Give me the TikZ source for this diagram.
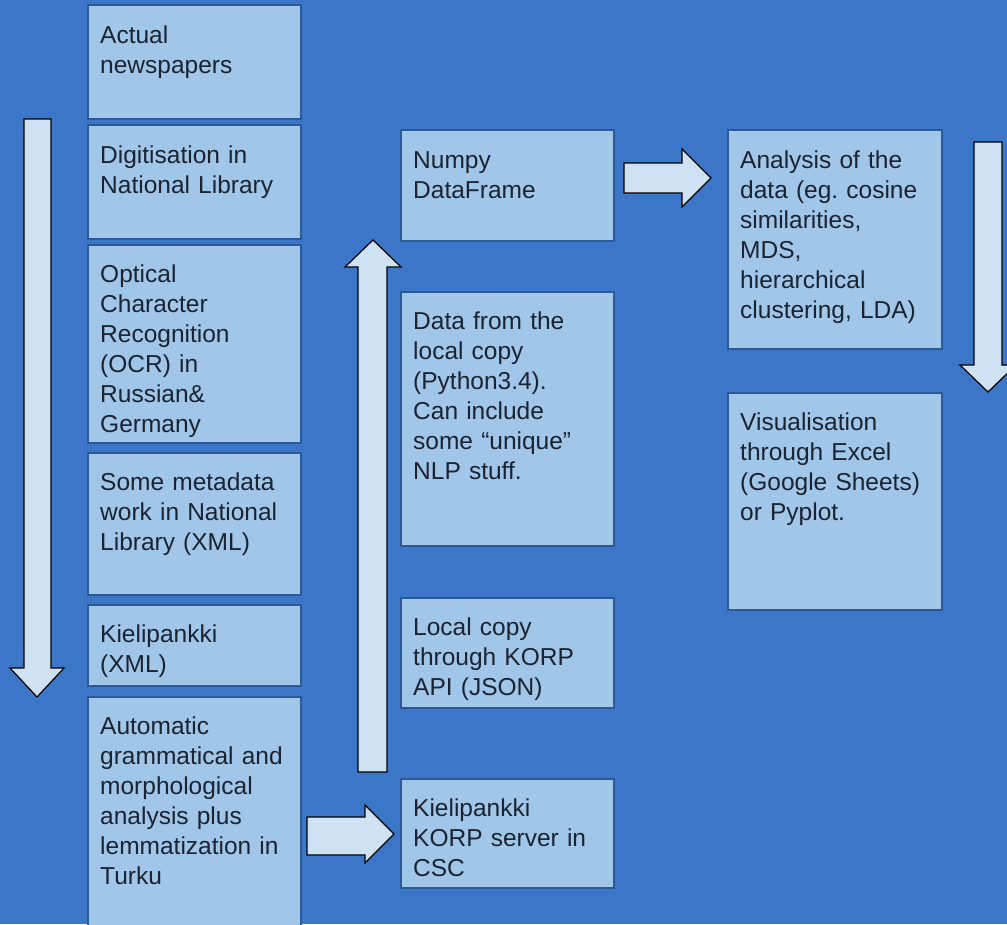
\documentclass[tikz,border=0pt]{standalone}
\usepackage{fontspec}
\setmainfont{Liberation Sans}
\frenchspacing
\definecolor{bg}{HTML}{3C76C8}
\definecolor{boxfill}{HTML}{A0C6EA}
\definecolor{boxline}{HTML}{2C5A98}
\definecolor{arrowfill}{HTML}{CFE2F3}
\definecolor{ink}{HTML}{1C2330}
\begin{document}
\begin{tikzpicture}[x=1pt,y=-1pt,
  card/.style={draw=boxline,line width=1.4pt,fill=boxfill,rectangle,anchor=north west,
    inner sep=0pt,outer sep=0pt,minimum width=213pt},
  lbl/.style={anchor=base west,inner sep=0pt,text=ink,text width=205pt,align=left,
    font=\fontsize{24.5}{30}\selectfont},
  blockarrow/.style={draw=black,line width=1.2pt,fill=arrowfill,line join=miter}]
% canvas
\clip (0,0) rectangle (1007,924);
\fill[bg] (0,0) rectangle (1007,924);

% left column: from newspapers to parsed corpus
\node[card,minimum height=114pt] (b1) at (88,5) {};
\node[card,minimum height=114pt] (b2) at (88,125) {};
\node[card,minimum height=198pt] (b3) at (88,245) {};
\node[card,minimum height=142pt] (b4) at (88,453) {};
\node[card,minimum height=81pt]  (b5) at (88,605) {};
\node[card,minimum height=250pt] (b6) at (88,697) {};

% middle column
\node[card,minimum height=111pt] (m1) at (401,130) {};
\node[card,minimum height=254pt] (m2) at (401,292) {};
\node[card,minimum height=110pt] (m3) at (401,598) {};
\node[card,minimum height=109pt] (m4) at (401,779) {};

% right column
\node[card,minimum width=214pt,minimum height=219pt] (r1) at (728,130) {};
\node[card,minimum width=214pt,minimum height=217pt] (r2) at (728,393) {};

% texts
\node[lbl] (t1) at ([xshift=12pt,yshift=-38pt]b1.north west) {Actual\\newspapers};
\node[lbl] (t2) at ([xshift=12pt,yshift=-38pt]b2.north west) {Digitisation in\\National Library};
\node[lbl] (t3) at ([xshift=12pt,yshift=-37pt]b3.north west) {Optical\\Character\\Recognition\\(OCR) in\\Russian\&\\Germany};
\node[lbl] (t4) at ([xshift=12pt,yshift=-37pt]b4.north west) {Some metadata\\work in National\\Library (XML)};
\node[lbl] (t5) at ([xshift=12pt,yshift=-37pt]b5.north west) {Kielipankki\\(XML)};
\node[lbl] (t6) at ([xshift=12pt,yshift=-37pt]b6.north west) {Automatic\\grammatical and\\morphological\\analysis plus\\lemmatization in\\Turku};
\node[lbl] (t7) at ([xshift=12pt,yshift=-38pt]m1.north west) {Numpy\\DataFrame};
\node[lbl] (t8) at ([xshift=12pt,yshift=-37pt]m2.north west) {Data from the\\local copy\\(Python3.4).\\Can include\\some “unique”\\NLP stuff.};
\node[lbl] (t9) at ([xshift=12pt,yshift=-37pt]m3.north west) {Local copy\\through KORP\\API (JSON)};
\node[lbl] (t10) at ([xshift=12pt,yshift=-37pt]m4.north west) {Kielipankki\\KORP server in\\CSC};
\node[lbl] (t11) at ([xshift=12pt,yshift=-38pt]r1.north west) {Analysis of the\\data (eg. cosine\\similarities,\\MDS,\\hierarchical\\clustering, LDA)};
\node[lbl] (t12) at ([xshift=12pt,yshift=-37pt]r2.north west) {Visualisation\\through Excel\\(Google Sheets)\\or Pyplot.};

% block arrows
\draw[blockarrow] (24,119) -- (51,119) -- (51,668) -- (64,668) -- (37,697) -- (10,668) -- (24,668) -- cycle;
\draw[blockarrow] (358,772) -- (387,772) -- (387,267) -- (401,267) -- (373,240) -- (345,267) -- (358,267) -- cycle;
\draw[blockarrow] (307,817) -- (365,817) -- (365,805) -- (394,834) -- (365,863) -- (365,855) -- (307,855) -- cycle;
\draw[blockarrow] (624,163) -- (682,163) -- (682,149) -- (711,178) -- (682,207) -- (682,193) -- (624,193) -- cycle;
\draw[blockarrow] (974,142) -- (1002,142) -- (1002,365) -- (1016,365) -- (988,392) -- (960,365) -- (974,365) -- cycle;
\end{tikzpicture}
\end{document}
